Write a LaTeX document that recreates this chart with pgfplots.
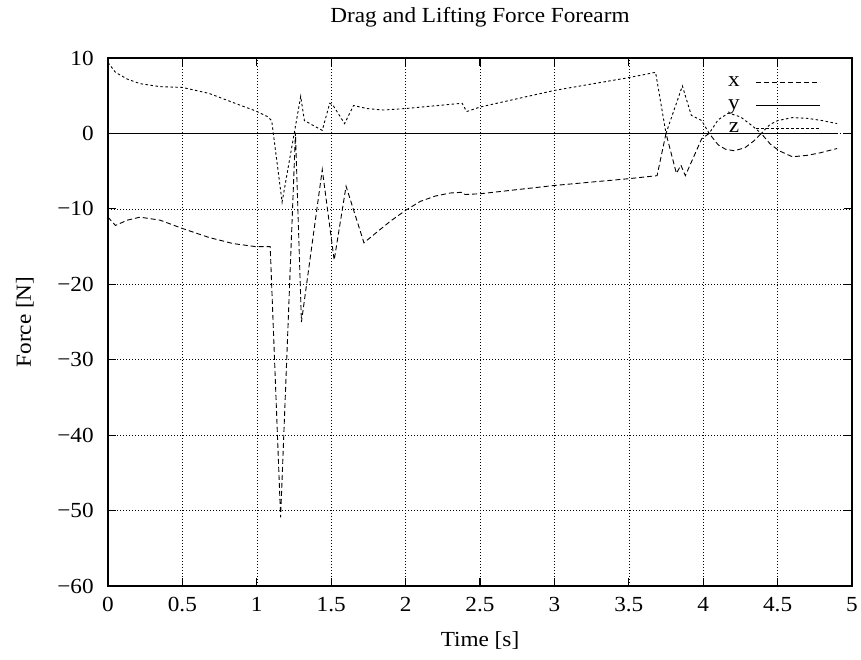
\documentclass[border=0pt]{standalone}
\usepackage{fontspec}
\setmainfont{Liberation Serif}[FakeStretch=1.08]
\usepackage{pgfplots}
\pgfplotsset{compat=1.18}
\newcommand{\fs}{\fontsize{21.5bp}{25bp}\selectfont}
\begin{document}
\fs
\begin{tikzpicture}
\useasboundingbox (0,0) rectangle (861bp,660bp);
\begin{axis}[
  at={(108bp,74bp)}, anchor=south west,
  scale only axis, width=744bp, height=528bp,
  xmin=0, xmax=5, ymin=-60, ymax=10,
  xtick={0,0.5,1,1.5,2,2.5,3,3.5,4,4.5,5},
  xticklabels={0,0.5,1,1.5,2,2.5,3,3.5,4,4.5,5},
  ytick={-60,-50,-40,-30,-20,-10,0,10},
  yticklabels={−60,−50,−40,−30,−20,−10,0,10},
  tick label style={font=\fs},
  xticklabel style={yshift=-4bp},
  yticklabel style={xshift=-7bp},
  tick align=inside, major tick length=8bp,
  xtick pos=both, ytick pos=both,
  axis line style={line width=1.1bp},
  every tick/.style={black, line width=1.1bp},
  grid=major,
  major grid style={black, line width=0.6bp, dash pattern=on 0.7bp off 2.3bp},
  title={Drag and Lifting Force Forearm},
  title style={at={(axis description cs:0.5,1.0568)}, anchor=base, font=\fs},
  xlabel={Time [s]},
  xlabel style={at={(axis description cs:0.5,-0.1155)}, anchor=base, font=\fs},
  ylabel={Force [N]},
  ylabel style={at={(axis description cs:-0.1116,0.5)}, anchor=center, font=\fs},
  legend plot pos=right,
  legend style={at={(axis description cs:1,1)}, anchor=north east, xshift=-28bp, yshift=-14bp,
    draw=none, fill=none, font=\fs, row sep=6bp},
  legend image code/.code={\path (0bp,0bp); \draw[#1] (14bp,0bp) -- (78bp,0bp);},
]
% x
\addplot[black, line width=0.9bp, dash pattern=on 5bp off 3bp] coordinates {
(0,-11.1) (0.05,-12.2) (0.13,-11.5) (0.215,-11.1) (0.35,-11.5) (0.5,-12.6)
(0.68,-13.8) (0.84,-14.6) (0.99,-15.0) (1.09,-15.0) (1.16,-50.9) (1.26,0.1)
(1.30,-25.0) (1.44,-4.8) (1.52,-16.8) (1.60,-7.0) (1.72,-14.5) (1.8,-13.2)
(1.9,-11.6) (2.0,-10.2) (2.1,-9.0) (2.2,-8.3) (2.3,-7.9) (2.38,-7.8)
(2.40,-8.1) (2.50,-8.0) (3.0,-6.9) (3.5,-6.0) (3.69,-5.6) (3.75,0)
(3.82,-5.3) (3.85,-4.2) (3.88,-5.6) (3.99,-0.7) (4.04,0) (4.1,-1.5)
(4.15,-2.1) (4.21,-2.3) (4.28,-1.9) (4.34,-1.0) (4.39,0) (4.45,-1.4)
(4.51,-2.3) (4.6,-3.1) (4.7,-2.9) (4.78,-2.6) (4.9,-2.0)
};
\addlegendentry{x}
% y
\addplot[black, line width=1bp] coordinates {(0,0) (4.9,0)};
\addlegendentry{y}
% z
\addplot[black, line width=0.9bp, dash pattern=on 2.5bp off 2.5bp] coordinates {
(0,9.4) (0.05,8.1) (0.13,7.2) (0.215,6.6) (0.35,6.2) (0.5,6.1) (0.68,5.3)
(0.84,4.1) (0.99,3.0) (1.07,2.25) (1.10,1.7) (1.17,-9.1) (1.295,4.9)
(1.32,1.7) (1.44,0.4) (1.49,4.0) (1.51,3.8) (1.59,1.3) (1.65,3.7)
(1.74,3.3) (1.85,3.1) (2.0,3.3) (2.38,4.0) (2.41,2.9) (2.50,3.5)
(3.0,5.7) (3.5,7.4) (3.68,8.1) (3.75,0) (3.86,6.3) (3.92,2.4) (3.99,1.7)
(4.04,0) (4.1,1.8) (4.17,2.7) (4.25,2.2) (4.33,1.0) (4.39,0) (4.45,1.2)
(4.5,1.7) (4.6,2.1) (4.7,2.0) (4.8,1.7) (4.9,1.3)
};
\addlegendentry{z}
\end{axis}
\end{tikzpicture}
\end{document}
